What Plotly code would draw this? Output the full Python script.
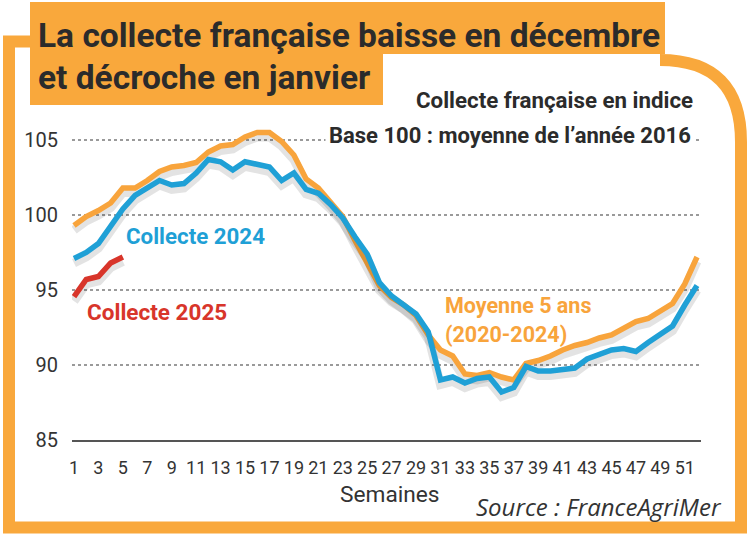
import plotly.graph_objects as go

# ---------------- data ----------------
weeks = list(range(1, 53))
collecte_2024 = [97.1, 97.5, 98.1, 99.3, 100.4, 101.3, 101.8, 102.3, 102.0, 102.1,
                 102.8, 103.7, 103.55, 103.0, 103.55, 103.4, 103.2, 102.3, 102.8, 101.7,
                 101.45, 100.7, 99.8, 98.55, 97.4, 95.5, 94.6, 94.0, 93.4, 92.2,
                 89.0, 89.2, 88.8, 89.1, 89.2, 88.2, 88.5, 89.9, 89.6, 89.6,
                 89.7, 89.8, 90.4, 90.7, 91.0, 91.1, 90.9, 91.5, 92.1, 92.6,
                 94.0, 95.3]
moyenne_5ans = [99.3, 99.9, 100.3, 100.8, 101.8, 101.8, 102.3, 102.9, 103.2, 103.3,
                103.5, 104.2, 104.6, 104.7, 105.2, 105.5, 105.5, 104.9, 104.0, 102.4,
                101.8, 100.9, 99.9, 98.3, 96.8, 95.3, 94.5, 94.0, 93.3, 92.0,
                91.0, 90.6, 89.4, 89.3, 89.5, 89.2, 89.0, 90.1, 90.3, 90.6,
                91.0, 91.3, 91.5, 91.8, 92.0, 92.5, 92.9, 93.1, 93.6, 94.1,
                95.4, 97.2]
weeks_2025 = [1, 2, 3, 4, 5]
collecte_2025 = [94.55, 95.7, 95.9, 96.8, 97.2]

x_tick_vals = list(range(1, 52, 2))
y_tick_vals = [85, 90, 95, 100, 105]

# ---------------- style ----------------
ORANGE = "#F9A83C"
ORANGE_LINE = "#F8A43C"
BLUE = "#1FA0D6"
RED = "#D8352A"
DARK = "#2B2B2B"
FONT = "Roboto, sans-serif"

W, H = 747, 536
L, R, T, B = 72, 46, 120, 96
PW, PH = W - L - R, H - T - B


def X(px):
    return (px - L) / PW


def Y(py):
    return (H - B - py) / PH


fig = go.Figure()

series = [
    (weeks, moyenne_5ans, ORANGE_LINE),
    (weeks, collecte_2024, BLUE),
    (weeks_2025, collecte_2025, RED),
]
for xs, ys, col in series:
    fig.add_trace(go.Scatter(x=xs, y=[v - 0.3 for v in ys], mode="lines",
                             line=dict(color="rgba(0,0,0,0.11)", width=9),
                             hoverinfo="skip", showlegend=False))
    fig.add_trace(go.Scatter(x=xs, y=ys, mode="lines",
                             line=dict(color=col, width=5.5),
                             showlegend=False))

fig.update_xaxes(range=[1 - 2 / 12.22, 52 + 4 / 12.22], tickvals=x_tick_vals,
                 showgrid=False, zeroline=False, showline=True, automargin=False,
                 linecolor="#555555", linewidth=2, ticks="", tickangle=0,
                 ticklabelstandoff=10,
                 tickfont=dict(family=FONT, size=18, color="#333333"))
fig.update_yaxes(range=[85, 85 + PH / 15], tickvals=y_tick_vals, automargin=False,
                 showgrid=True, gridcolor="#9A9A9A", gridwidth=1.6, griddash="dot",
                 zeroline=False, showline=False, ticks="", ticklabelstandoff=13,
                 tickfont=dict(family=FONT, size=20, color="#333333"))

shapes = [
    dict(type="rect", xref="paper", yref="paper", x0=X(30), x1=X(665), y0=Y(2), y1=Y(54),
         fillcolor=ORANGE, line=dict(width=0), layer="above"),
    dict(type="rect", xref="paper", yref="paper", x0=X(30), x1=X(383), y0=Y(50), y1=Y(105),
         fillcolor=ORANGE, line=dict(width=0), layer="above"),
    dict(type="path", xref="paper", yref="paper",
         path=(f"M {X(660)},{Y(60)} Q {X(741)},{Y(60)} {X(741)},{Y(142)} "
               f"L {X(741)},{Y(527.5)} L {X(9)},{Y(527.5)} L {X(9)},{Y(41.5)} L {X(32)},{Y(41.5)}"),
         line=dict(color=ORANGE, width=12), layer="above"),
]

ann = []


def text(t, px, py, size, color, xanchor="left", bold=True, family=FONT, bg=None, italic=False):
    s = t
    if bold:
        s = f"<b>{s}</b>"
    if italic:
        s = f"<i>{s}</i>"
    d = dict(text=s, xref="paper", yref="paper", x=X(px), y=Y(py), xanchor=xanchor,
             yanchor="middle", showarrow=False, font=dict(family=family, size=size, color=color))
    if bg:
        d["bgcolor"] = bg
        d["borderpad"] = 3
    ann.append(d)


text("La collecte française baisse en décembre", 36, 35, 33.5, DARK)
text("et décroche en janvier", 36, 78, 33.5, DARK)
text("Collecte française en indice", 695, 100, 22.3, DARK, xanchor="right")
text("Base 100 : moyenne de l’année 2016", 695, 135, 22, DARK, xanchor="right", bg="white")
text("Collecte 2024", 124, 236, 22.3, BLUE)
text("Collecte 2025", 85, 312, 22.5, RED)
text("Moyenne 5 ans", 443, 305, 21.5, ORANGE_LINE)
text("(2020-2024)", 443, 334, 21.5, ORANGE_LINE)
text("Semaines", 390, 494, 22.7, "#333333", xanchor="center", bold=False)
text("Source : FranceAgriMer", 724, 506, 24, "#333333", xanchor="right", bold=False,
     family="Open Sans, sans-serif", italic=True)

fig.update_layout(width=W, height=H, margin=dict(l=L, r=R, t=T, b=B),
                  paper_bgcolor="white", plot_bgcolor="white",
                  shapes=shapes, annotations=ann, showlegend=False)

fig.write_html("out.html", config={"displayModeBar": False},
               post_script="document.body.style.margin='0';document.body.style.overflow='hidden';")
